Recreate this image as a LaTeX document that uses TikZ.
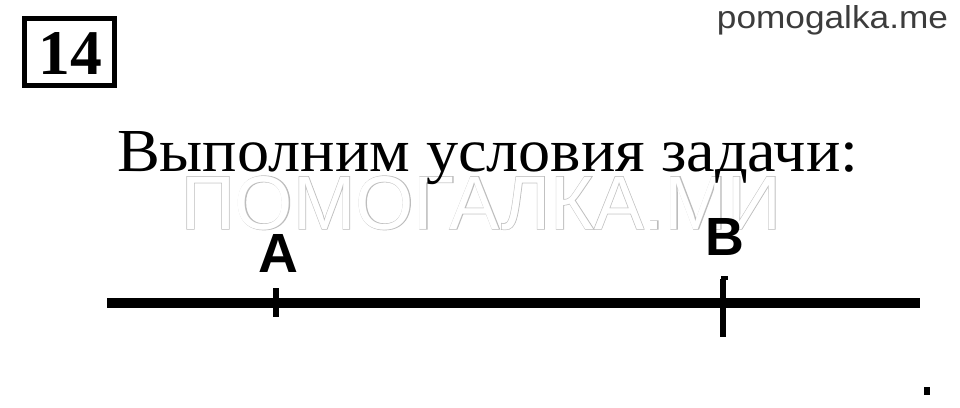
\documentclass[tikz,border=0pt]{standalone}
\usepackage{fontspec}
\usepackage{graphicx}
\setmainfont{Liberation Serif}
\newfontfamily\titlefont{Liberation Serif}
\newfontfamily\labelfont{Liberation Sans}
\newfontfamily\wmfontB[FakeBold=1.6]{Liberation Sans}
\newfontfamily\wmfont{Liberation Sans}
\definecolor{wmgray}{HTML}{BDBDBD}
\definecolor{sitegray}{HTML}{3C3C3C}
\tikzset{
  txt/.style={inner sep=0pt, outer sep=0pt},
  axisline/.style={line width=10pt, line cap=butt},
  tickmark/.style={line width=6pt, line cap=butt},
  ptlabel/.style={txt, anchor=base, font=\labelfont\bfseries},
}
\begin{document}
\begin{tikzpicture}[x=1pt,y=-1pt]
\useasboundingbox (0,0) rectangle (960,407);
% numbered box
\draw[line width=5pt] (24.5,18.5) rectangle (114.5,85.5);
\node[txt] (num) at (70,53) {\resizebox{!}{42pt}{\bfseries 14}};
% site name
\node[txt, anchor=base east, text=sitegray] (site) at (948,28) {\resizebox{231pt}{23pt}{\labelfont pomogalka.me}};
% watermark (outlined)
\node[txt, anchor=base west, text=wmgray] (wmo) at (181,229) {\resizebox{600pt}{53pt}{\wmfontB ПОМОГАЛКА.МИ}};
\node[txt, anchor=base west, text=white] (wmi) at (181,229) {\resizebox{600pt}{53pt}{\wmfont ПОМОГАЛКА.МИ}};
% title
\node[txt, anchor=base west] (title) at (117,171) {\resizebox{741pt}{40pt}{\titlefont Выполним условия задачи:}};
% axis
\coordinate (L) at (107,303);
\coordinate (R) at (920,303);
\draw[axisline] (L) -- (R);
% point A
\coordinate (tA1) at (276,288);
\coordinate (tA2) at (276,317);
\draw[tickmark] (tA1) -- (tA2);
\node[ptlabel] (A) at (278,272) {\resizebox{!}{38pt}{A}};
% point B
\coordinate (tB1) at (723,279);
\coordinate (tB2) at (723,337);
\draw[tickmark] (tB1) -- (tB2);
\fill (721,276) rectangle (728,280);
\node[ptlabel] (B) at (725,255) {\resizebox{!}{37pt}{B}};
% dot
\fill (924,387) rectangle (930,395);
\end{tikzpicture}
\end{document}
